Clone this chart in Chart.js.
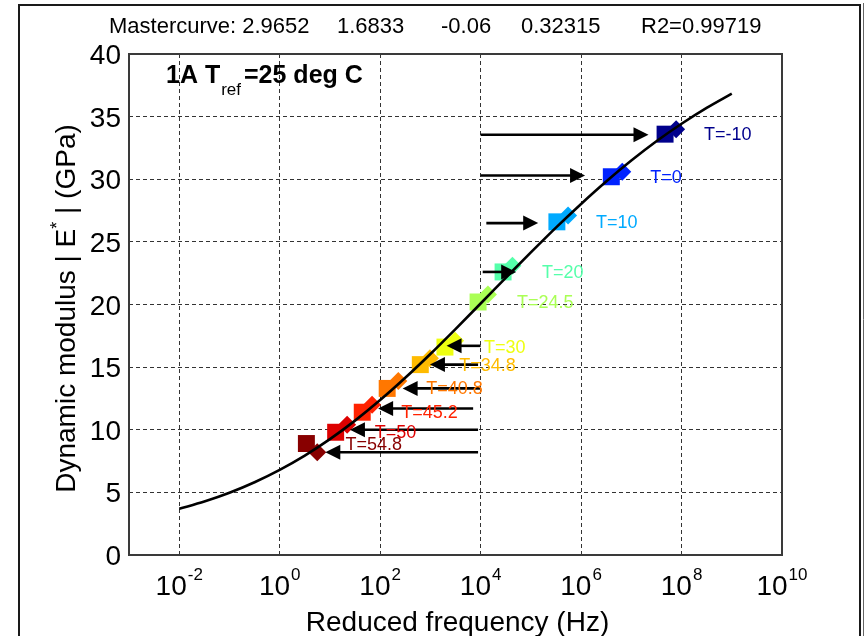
<!DOCTYPE html>
<html>
<head>
<meta charset="utf-8">
<script src="https://cdn.jsdelivr.net/npm/chart.js@4.4.1/dist/chart.umd.min.js"></script>
<style>
  html, body { margin: 0; padding: 0; background: #fff; }
  canvas { display: block; }
</style>
</head>
<body>
<canvas id="c" width="864" height="636"></canvas>
<script>
// Sigmoidal master curve of |E*| at Tref = 25 deg C
const curveFreq = [0.01, 0.0316, 0.1, 0.316, 1, 3.16, 10, 31.6, 100, 316, 1000, 3160,
                   1e4, 3.16e4, 1e5, 3.16e5, 1e6, 3.16e6, 1e7, 3.16e7, 1e8, 3.16e8, 1e9];
const curveModulus = [3.69, 4.27, 4.97, 5.81, 6.80, 7.94, 9.25, 10.73, 12.37, 14.15, 16.05, 18.04,
                      20.08, 22.13, 24.16, 26.14, 28.03, 29.82, 31.49, 33.03, 34.43, 35.70, 36.84];

// Shifted test data, one group per test temperature
const tempLabels = ['T=-10', 'T=0', 'T=10', 'T=20', 'T=24.5', 'T=30', 'T=34.8', 'T=40.8', 'T=45.2', 'T=50', 'T=54.8'];
const tempColors = ['#00008c', '#0022ff', '#00aaff', '#55ffaa', '#aaff55', '#eeff11',
                    '#ffbb00', '#ff7700', '#ff2200', '#dd0000', '#880000'];
const squareFreq = [4.7e7, 4.0e6, 3.3e5, 2.8e4, 8.9e3, 1950, 630, 138, 44, 13, 3.4];
const squareModulus = [33.6, 30.2, 26.6, 22.6, 20.2, 16.6, 15.2, 13.3, 11.4, 9.8, 8.9];
const diamondFreq = [7.8e7, 6.6e6, 5.5e5, 4.3e4, 1.4e4, 3100, 980, 230, 69, 22, 5.6];
const diamondModulus = [34.0, 30.6, 27.1, 23.1, 20.8, 17.1, 15.7, 13.9, 12.0, 10.4, 8.2];

// Horizontal shift arrows (no shift at the reference temperature)
const shiftFromFreq = [1e4, 1e4, 1.3e4, 1.1e4, null, 1e4, 8.9e3, 1e4, 7.1e3, 8.9e3, 8.9e3];
const shiftToFreq = [2.2e7, 1.2e6, 1.4e5, 5.1e4, null, 2.1e3, 980, 280, 91, 25, 8.1];
const shiftModulus = [33.55, 30.3, 26.5, 22.6, null, 16.7, 15.2, 13.3, 11.7, 10.0, 8.2];

// Axis ticks
const xTickExponents = [-2, 0, 2, 4, 6, 8, 10];
const yTickValues = [0, 5, 10, 15, 20, 25, 30, 35, 40];

const titleParts = ['Mastercurve: 2.9652', '1.6833', '-0.06', '0.32315', 'R2=0.99719'];
const FONT = '"Liberation Sans", Arial, Helvetica, sans-serif';

const datasets = [];
datasets.push({
  label: 'master curve',
  data: curveFreq.map((f, i) => ({ x: f, y: curveModulus[i] })),
  showLine: true,
  borderColor: '#000',
  borderWidth: 2.6,
  pointRadius: 0,
  cubicInterpolationMode: 'monotone',
  order: 0
});
shiftFromFreq.forEach((f, i) => {
  if (f === null) return;
  datasets.push({
    label: 'shift ' + tempLabels[i],
    data: [{ x: f, y: shiftModulus[i] }, { x: shiftToFreq[i], y: shiftModulus[i] }],
    showLine: false,
    pointRadius: 0,
    arrow: true,
    order: 1
  });
});
datasets.push({
  label: 'diamonds',
  data: diamondFreq.map((f, i) => ({ x: f, y: diamondModulus[i] })),
  pointStyle: 'rectRot',
  pointRadius: 9,
  pointBackgroundColor: tempColors,
  pointBorderColor: tempColors,
  pointBorderWidth: 0,
  order: 2
});
datasets.push({
  label: 'squares',
  data: squareFreq.map((f, i) => ({ x: f, y: squareModulus[i] })),
  pointStyle: 'rect',
  pointRadius: 12,
  pointBackgroundColor: tempColors,
  pointBorderColor: tempColors,
  pointBorderWidth: 0,
  order: 3,
  tempLabelled: true
});

function drawText(ctx, str, x, y, size, opts) {
  opts = opts || {};
  ctx.save();
  ctx.font = (opts.bold ? 'bold ' : '') + size + 'px ' + FONT;
  ctx.fillStyle = opts.color || '#000';
  ctx.textAlign = opts.align || 'left';
  ctx.textBaseline = opts.baseline || 'alphabetic';
  ctx.fillText(str, x, y);
  const w = ctx.measureText(str).width;
  ctx.restore();
  return w;
}
function textWidth(ctx, str, size, bold) {
  ctx.save();
  ctx.font = (bold ? 'bold ' : '') + size + 'px ' + FONT;
  const w = ctx.measureText(str).width;
  ctx.restore();
  return w;
}

const decorations = {
  id: 'decorations',
  beforeDraw(chart) {
    const ctx = chart.ctx;
    ctx.save();
    ctx.fillStyle = '#fff';
    ctx.fillRect(0, 0, chart.width, chart.height);
    // figure frame
    ctx.strokeStyle = '#1a1a1a';
    ctx.lineWidth = 2;
    ctx.beginPath();
    ctx.moveTo(19, chart.height + 2);
    ctx.lineTo(19, 5);
    ctx.lineTo(860, 5);
    ctx.lineTo(860, chart.height + 2);
    ctx.stroke();
    ctx.lineWidth = 1;
    ctx.strokeStyle = '#666';
    ctx.beginPath();
    ctx.moveTo(863.5, 3);
    ctx.lineTo(863.5, chart.height);
    ctx.stroke();
    ctx.restore();
  },
  afterDatasetsDraw(chart) {
    const ctx = chart.ctx;
    chart.data.datasets.forEach((ds, i) => {
      const meta = chart.getDatasetMeta(i);
      if (ds.arrow) {
        const p0 = meta.data[0], p1 = meta.data[1];
        const ang = Math.atan2(p1.y - p0.y, p1.x - p0.x);
        const len = 15, half = 7.5;
        const bx = p1.x - Math.cos(ang) * len, by = p1.y - Math.sin(ang) * len;
        ctx.save();
        ctx.strokeStyle = '#000';
        ctx.fillStyle = '#000';
        ctx.lineWidth = 2.6;
        ctx.beginPath();
        ctx.moveTo(p0.x, p0.y);
        ctx.lineTo(bx + Math.cos(ang) * 2, by + Math.sin(ang) * 2);
        ctx.stroke();
        ctx.beginPath();
        ctx.moveTo(p1.x, p1.y);
        ctx.lineTo(bx - Math.sin(ang) * half, by + Math.cos(ang) * half);
        ctx.lineTo(bx + Math.sin(ang) * half, by - Math.cos(ang) * half);
        ctx.closePath();
        ctx.fill();
        ctx.restore();
      }
      if (ds.tempLabelled) {
        meta.data.forEach((pt, k) => {
          drawText(ctx, tempLabels[k], pt.x + 39, pt.y + 6, 18, { color: tempColors[k] });
        });
      }
    });
  },
  afterDraw(chart) {
    const ctx = chart.ctx;
    const a = chart.chartArea;
    const xs = chart.scales.x, ys = chart.scales.y;

    // plot box
    ctx.save();
    ctx.strokeStyle = '#3a3a3a';
    ctx.lineWidth = 2;
    ctx.strokeRect(a.left, a.top, a.right - a.left, a.bottom - a.top);
    ctx.restore();

    // x tick labels: 10 with exponent
    xTickExponents.forEach(e => {
      const px = xs.getPixelForValue(Math.pow(10, e));
      const base = '10', exp = String(e);
      const wb = textWidth(ctx, base, 28), we = textWidth(ctx, exp, 17);
      const start = px - (wb + 1 + we) / 2;
      drawText(ctx, base, start, 595, 28);
      drawText(ctx, exp, start + wb + 1, 580, 17);
    });

    // y tick labels
    yTickValues.forEach(v => {
      const py = ys.getPixelForValue(v);
      drawText(ctx, String(v), a.left - 8, py + 10, 28, { align: 'right' });
    });

    // x axis title
    drawText(ctx, 'Reduced frequency (Hz)', (a.left + a.right) / 2 + 2, 631, 28, { align: 'center' });

    // y axis title with superscript star
    ctx.save();
    ctx.translate(75, (a.top + a.bottom) / 2 + 4);
    ctx.rotate(-Math.PI / 2);
    const p1 = 'Dynamic modulus | E', p2 = '*', p3 = ' | (GPa)';
    const w1 = textWidth(ctx, p1, 28), w2 = textWidth(ctx, p2, 18), w3 = textWidth(ctx, p3, 28);
    let sx = -(w1 + w2 + w3) / 2;
    drawText(ctx, p1, sx, 0, 28); sx += w1;
    drawText(ctx, p2, sx, -12, 18); sx += w2;
    drawText(ctx, p3, sx, 0, 28);
    ctx.restore();

    // fit parameters above the plot
    const titleX = [109, 337, 441, 521, 641];
    titleParts.forEach((t, i) => drawText(ctx, t, titleX[i], 33, 22));

    // reference temperature note
    let tx = 166;
    tx += drawText(ctx, '1A T', tx, 83, 25, { bold: true });
    tx += 1;
    tx += drawText(ctx, 'ref', tx, 95, 17);
    tx += 3;
    drawText(ctx, '=25 deg C', tx, 83, 25, { bold: true });
  }
};

const gridOpts = { color: '#333', lineWidth: 1, drawTicks: false };
new Chart(document.getElementById('c'), {
  type: 'scatter',
  data: { datasets: datasets },
  options: {
    responsive: false,
    animation: false,
    devicePixelRatio: 1,
    layout: { padding: { left: 129, top: 54, right: 82, bottom: 81 } },
    plugins: { legend: { display: false }, tooltip: { enabled: false }, title: { display: false } },
    scales: {
      x: {
        type: 'logarithmic', min: 1e-3, max: 1e10,
        afterBuildTicks: s => { s.ticks = xTickExponents.map(e => ({ value: Math.pow(10, e) })); },
        ticks: { display: false },
        grid: gridOpts,
        border: { display: false, dash: [4, 3] }
      },
      y: {
        type: 'linear', min: 0, max: 40,
        afterBuildTicks: s => { s.ticks = yTickValues.map(v => ({ value: v })); },
        ticks: { display: false },
        grid: gridOpts,
        border: { display: false, dash: [4, 3] }
      }
    }
  },
  plugins: [decorations]
});
</script>
</body>
</html>
